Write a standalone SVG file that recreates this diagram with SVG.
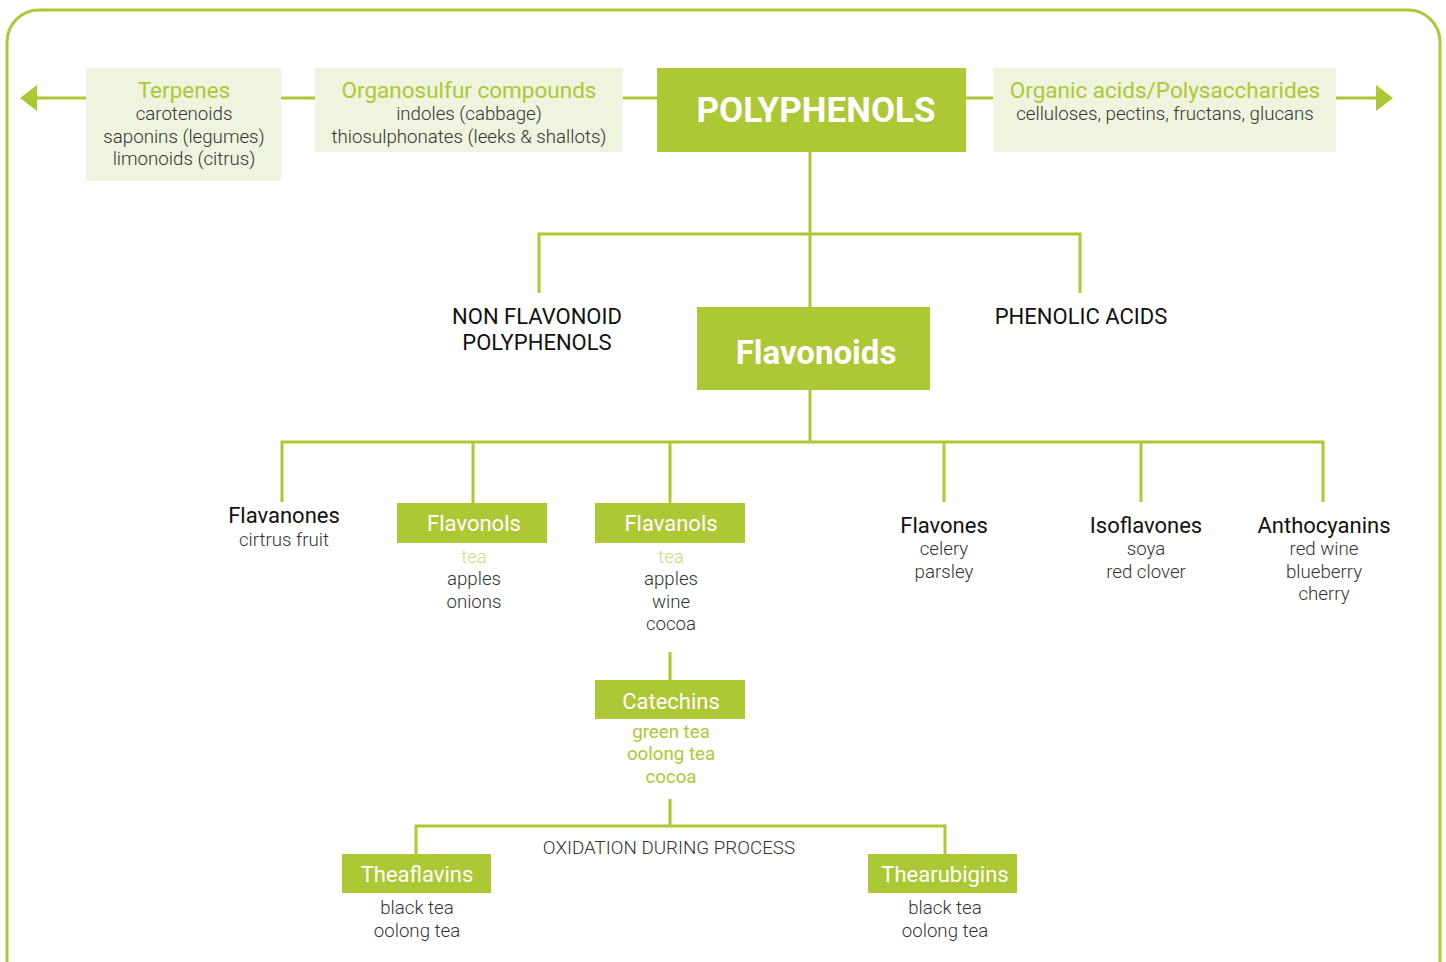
<svg xmlns="http://www.w3.org/2000/svg" width="1446" height="962" viewBox="0 0 1446 962">
<style>
.ln{stroke:#adc835;stroke-width:3;fill:none}
.dark{fill:#adc835}
.light{fill:#eef4de}
.t{font-family:Roboto,"Liberation Sans",sans-serif;text-anchor:middle}
.hd{font-size:22.5px;fill:#adc835;font-weight:400}
.ds{font-size:18.7px;fill:#333;font-weight:300}
.bh{font-size:22px;fill:#111;font-weight:400}
.wh{font-size:22px;fill:#fff;font-weight:400}
.lg{font-size:18.7px;fill:#c8dc85;font-weight:300}
.gg{font-size:18.7px;fill:#adc835;font-weight:400}
</style>
<rect x="7" y="10" width="1433" height="990" rx="32" ry="32" fill="none" stroke="#adc835" stroke-width="3"/>
<g id="connectors">
<line class="ln" x1="86" y1="98" x2="36" y2="98"/>
<path d="M20,98 L37,85 L37,111 Z" fill="#adc835"/>
<line class="ln" x1="281" y1="98" x2="315" y2="98"/>
<line class="ln" x1="623" y1="98" x2="657" y2="98"/>
<line class="ln" x1="966" y1="98" x2="993" y2="98"/>
<line class="ln" x1="1336" y1="98" x2="1377" y2="98"/>
<path d="M1393,98 L1376,85 L1376,111 Z" fill="#adc835"/>
<line class="ln" x1="810" y1="152" x2="810" y2="307"/>
<polyline class="ln" points="539,293 539,234 1080,234 1080,293"/>
<line class="ln" x1="810" y1="390" x2="810" y2="442"/>
<polyline class="ln" points="282,502 282,442 1323,442 1323,502"/>
<line class="ln" x1="473" y1="442" x2="473" y2="503"/>
<line class="ln" x1="670" y1="442" x2="670" y2="503"/>
<line class="ln" x1="944" y1="442" x2="944" y2="502"/>
<line class="ln" x1="1141" y1="442" x2="1141" y2="502"/>
<line class="ln" x1="670" y1="652" x2="670" y2="680"/>
<line class="ln" x1="670" y1="799" x2="670" y2="826"/>
<polyline class="ln" points="416,854 416,826 945,826 945,854"/>
</g>
<g id="terpenes">
<rect class="light" x="86" y="68" width="195" height="113"/>
<text class="t hd" x="184" y="98">Terpenes</text>
<text class="t ds" x="184" y="120">carotenoids</text>
<text class="t ds" x="184" y="143">saponins (legumes)</text>
<text class="t ds" x="184" y="165">limonoids (citrus)</text>
</g>
<g id="organosulfur">
<rect class="light" x="315" y="68" width="308" height="84"/>
<text class="t hd" x="469" y="98">Organosulfur compounds</text>
<text class="t ds" x="469" y="120">indoles (cabbage)</text>
<text class="t ds" x="469" y="143">thiosulphonates (leeks &amp; shallots)</text>
</g>
<g id="polyphenols">
<rect class="dark" x="657" y="68" width="309" height="84"/>
<text class="t" x="816" y="122" font-size="35" font-weight="700" fill="#fff">POLYPHENOLS</text>
</g>
<g id="organic">
<rect class="light" x="993" y="68" width="343" height="84"/>
<text class="t hd" x="1165" y="98">Organic acids/Polysaccharides</text>
<text class="t ds" x="1165" y="120">celluloses, pectins, fructans, glucans</text>
</g>
<g id="nonflavonoid">
<text class="t bh" x="537" y="324">NON FLAVONOID</text>
<text class="t bh" x="537" y="350">POLYPHENOLS</text>
</g>
<g id="phenolic">
<text class="t bh" x="1081" y="324">PHENOLIC ACIDS</text>
</g>
<g id="flavonoids">
<rect class="dark" x="697" y="307" width="233" height="83"/>
<text class="t" x="816" y="364" font-size="33" font-weight="700" fill="#fff">Flavonoids</text>
</g>
<g id="flavanones">
<text class="t bh" x="284" y="523">Flavanones</text>
<text class="t ds" x="284" y="546">cirtrus fruit</text>
</g>
<g id="flavonols">
<rect class="dark" x="397" y="503" width="150" height="40"/>
<text class="t wh" x="474" y="531">Flavonols</text>
<text class="t lg" x="474" y="563">tea</text>
<text class="t ds" x="474" y="585">apples</text>
<text class="t ds" x="474" y="608">onions</text>
</g>
<g id="flavanols">
<rect class="dark" x="595" y="503" width="150" height="40"/>
<text class="t wh" x="671" y="531">Flavanols</text>
<text class="t lg" x="671" y="563">tea</text>
<text class="t ds" x="671" y="585">apples</text>
<text class="t ds" x="671" y="608">wine</text>
<text class="t ds" x="671" y="630">cocoa</text>
</g>
<g id="flavones">
<text class="t bh" x="944" y="533">Flavones</text>
<text class="t ds" x="944" y="555">celery</text>
<text class="t ds" x="944" y="578">parsley</text>
</g>
<g id="isoflavones">
<text class="t bh" x="1146" y="533">Isoflavones</text>
<text class="t ds" x="1146" y="555">soya</text>
<text class="t ds" x="1146" y="578">red clover</text>
</g>
<g id="anthocyanins">
<text class="t bh" x="1324" y="533">Anthocyanins</text>
<text class="t ds" x="1324" y="555">red wine</text>
<text class="t ds" x="1324" y="578">blueberry</text>
<text class="t ds" x="1324" y="600">cherry</text>
</g>
<g id="catechins">
<rect class="dark" x="595" y="680" width="150" height="39"/>
<text class="t wh" x="671" y="709">Catechins</text>
<text class="t gg" x="671" y="738">green tea</text>
<text class="t gg" x="671" y="760">oolong tea</text>
<text class="t gg" x="671" y="783">cocoa</text>
</g>
<g id="oxidation">
<text class="t" x="669" y="854" font-size="18.8" font-weight="300" fill="#333">OXIDATION DURING PROCESS</text>
</g>
<g id="theaflavins">
<rect class="dark" x="342" y="854" width="149" height="39"/>
<text class="t wh" x="417" y="882">Theaflavins</text>
<text class="t ds" x="417" y="914">black tea</text>
<text class="t ds" x="417" y="937">oolong tea</text>
</g>
<g id="thearubigins">
<rect class="dark" x="868" y="854" width="149" height="39"/>
<text class="t wh" x="945" y="882">Thearubigins</text>
<text class="t ds" x="945" y="914">black tea</text>
<text class="t ds" x="945" y="937">oolong tea</text>
</g>
</svg>
